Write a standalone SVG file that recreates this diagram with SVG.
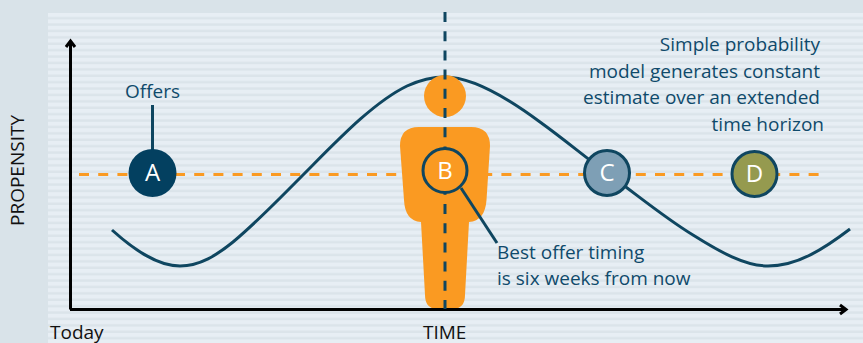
<svg xmlns="http://www.w3.org/2000/svg" width="863" height="343" viewBox="0 0 863 343">
<style>
text{font-family:"Open Sans","Noto Sans","Liberation Sans",sans-serif;font-size:19px}
.b{fill:#0f4a6b}.k{fill:#111}.w{fill:#fff;font-size:24px;text-anchor:middle}
.r{text-anchor:end}
.ax{fill:none;stroke:#000;stroke-width:3}
</style>
<defs>
<pattern id="st" x="48" y="13" width="10" height="6.4" patternUnits="userSpaceOnUse">
<rect width="10" height="6.4" fill="#dbe4ea"/><rect width="10" height="4" fill="#e7eef4"/>
</pattern>
</defs>
<rect width="863" height="343" fill="#d9e3e9"/>
<rect x="48" y="13" width="815" height="330" fill="url(#st)"/>
<g id="connectors">
<path d="M79 174.500H819" fill="none" stroke="#fa9a22" stroke-width="3" stroke-dasharray="10 9.200"/>
<path d="M112 230C132 248 156 266 180 266C200 266 217 255 233 242C257 222 278 200 300 178C335 143 372 103 407 86C420 80 432 77 445 77C470 77 505 96 540 122C565 140 585 157 607 173C640 197 665 218 693 235C720 252 745 266 768 266C798 266 825 248 850 229" fill="none" stroke="#0f4660" stroke-width="3"/>
</g>
<g id="person">
<circle cx="445" cy="96" r="21" fill="#fa9a22"/>
<path d="M419 127H471Q490 127 490 146L486.500 200Q485 221 469 222L465 295Q465 309 452 309H438Q425 309 425 295L421 222Q405 221 404 200L400 146Q400 127 419 127Z" fill="#fa9a22"/>
</g>
<g id="axes">
<path class="ax" d="M70.500 309.500V42"/><path class="ax" d="M66 47L70.500 41L75 47"/>
<path class="ax" d="M70 309.500H845"/><path class="ax" d="M840 305L846 309.500L840 314"/>
</g>
<g id="connectors-2">
<path d="M445 12V309" fill="none" stroke="#0f4660" stroke-width="3" stroke-dasharray="10 9.200"/>
<path d="M152.500 105V150" fill="none" stroke="#0f4660" stroke-width="3"/>
<path d="M461 188L497 243" fill="none" stroke="#0f4660" stroke-width="3"/>
</g>
<g id="node-a"><circle cx="152.500" cy="173" r="24" fill="#034060"/><text class="w" x="152.500" y="181">A</text></g>
<g id="node-b"><circle cx="445" cy="170.500" r="22" fill="#fa9a22" stroke="#0f4660" stroke-width="3"/><text class="w" x="445" y="179">B</text></g>
<g id="node-c"><circle cx="607" cy="173" r="22.500" fill="#7e9fb5" stroke="#0f4660" stroke-width="3"/><text class="w" x="607" y="181">C</text></g>
<g id="node-d"><circle cx="754.500" cy="174" r="22.500" fill="#959a4f" stroke="#0f4660" stroke-width="3"/><text class="w" x="754.500" y="182">D</text></g>
<g id="labels">
<text class="b" x="125" y="98">Offers</text>
<text class="b" x="497" y="259">Best offer timing</text>
<text class="b" x="497" y="285">is six weeks from now</text>
<text class="b r" x="820" y="51">Simple probability</text>
<text class="b r" x="820" y="78">model generates constant</text>
<text class="b r" x="820" y="104">estimate over an extended</text>
<text class="b r" x="824" y="131">time horizon</text>
<text class="k" x="50" y="338.500">Today</text>
<text class="k" x="423" y="338.500">TIME</text>
<text class="k" transform="translate(24,226) rotate(-90)">PROPENSITY</text>
</g>
</svg>
